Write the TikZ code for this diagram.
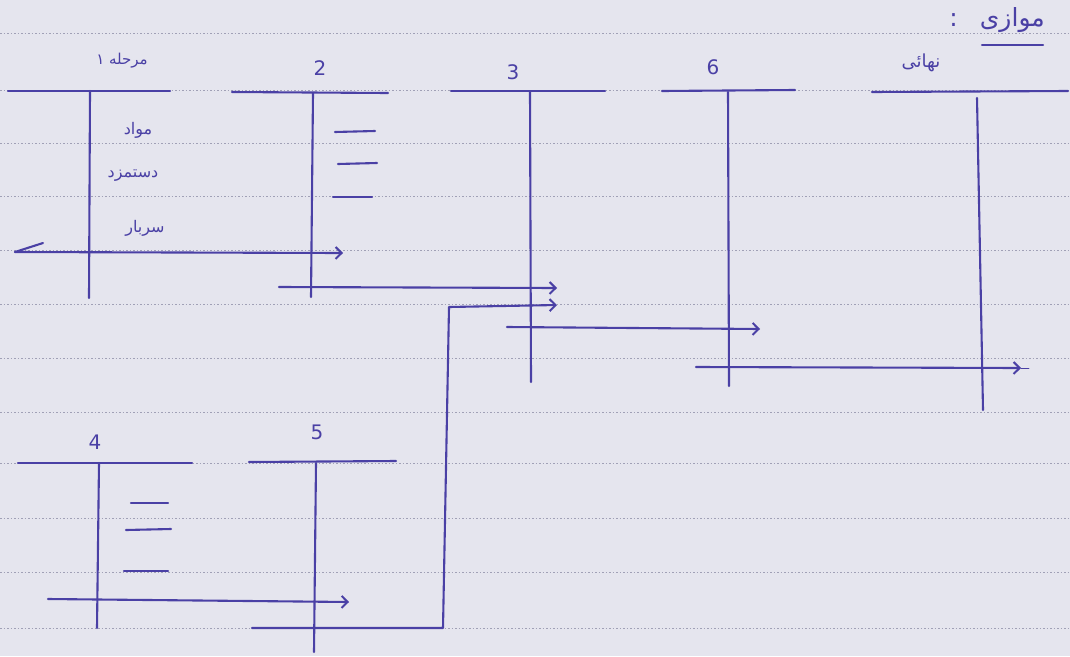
\documentclass[tikz,border=0pt]{standalone}
\usepackage{fontspec}
\setmainfont{DejaVu Sans}
\newfontfamily\arabicfont[Script=Arabic]{DejaVu Sans}
\TeXXeTstate=1
\usetikzlibrary{arrows.meta}
\definecolor{ink}{RGB}{74,64,165}
\definecolor{paper}{RGB}{229,229,238}
\definecolor{rulecol}{RGB}{160,160,182}
\begin{document}
\begin{tikzpicture}[x=1pt,y=-1pt,
  pen/.style={draw=ink,line width=2.1pt,line cap=round},
  flow/.style={pen,-{Straight Barb[length=6pt,width=12pt,line width=2pt]}},
  lab/.style={text=ink,font=\fontsize{20}{20}\selectfont,inner sep=0pt},
  fa/.style={text=ink,font=\arabicfont\fontsize{16}{16}\selectfont,inner sep=0pt},
  ruled/.style={draw=rulecol,line width=0.6pt,dash pattern=on 1.5pt off 2pt}]
\fill[paper] (0,0) rectangle (1070,656);
\useasboundingbox (0,0) rectangle (1070,656);
% ruled paper
\foreach \yy in {33,90,143,196,250,304,358,412,463,518,572,628}
  \draw[ruled] (0,\yy) -- (1070,\yy);

% title
\node[fa,font=\arabicfont\fontsize{25}{25}\selectfont,anchor=east] (title) at (1045,20) {\beginR موازی\hspace{22pt}:\endR};
\draw[pen] (982,45) -- (1043,45);

% ---- stage 1
\node[fa,font=\arabicfont\fontsize{15}{15}\selectfont] (s1) at (122,61) {\beginR مرحله ۱\endR};
\coordinate (t1l) at (8,91); \coordinate (t1r) at (170,91);
\coordinate (t1a) at (90,91); \coordinate (t1b) at (89,298);
\draw[pen] (t1l) -- (t1r); \draw[pen] (t1a) -- (t1b);
\node[fa] (m1) at (138,130) {\beginR مواد\endR};
\node[fa] (m2) at (133,176) {\beginR دستمزد\endR};
\node[fa] (m3) at (145,228) {\beginR سربار\endR};

% ---- stage 2
\node[lab] (s2) at (320,68) {2};
\coordinate (t2l) at (232,92); \coordinate (t2r) at (388,93);
\coordinate (t2a) at (313,93); \coordinate (t2b) at (311,297);
\draw[pen] (t2l) -- (t2r); \draw[pen] (t2a) -- (t2b);
\draw[pen] (335,132) -- (375,131);
\draw[pen] (338,164) -- (377,163);
\draw[pen] (333,197) -- (372,197);

% ---- stage 3
\node[lab] (s3) at (513,72) {3};
\coordinate (t3l) at (451,91); \coordinate (t3r) at (605,91);
\coordinate (t3a) at (530,92); \coordinate (t3b) at (531,382);
\draw[pen] (t3l) -- (t3r); \draw[pen] (t3a) -- (t3b);

% ---- stage 6
\node[lab] (s6) at (713,67) {6};
\coordinate (t6l) at (662,91); \coordinate (t6r) at (795,90);
\coordinate (t6a) at (728,92); \coordinate (t6b) at (729,386);
\draw[pen] (t6l) -- (t6r); \draw[pen] (t6a) -- (t6b);

% ---- final
\node[fa,font=\arabicfont\fontsize{18}{18}\selectfont] (sf) at (921,63) {\beginR نهائی\endR};
\coordinate (tfl) at (872,92); \coordinate (tfr) at (1068,91);
\coordinate (tfa) at (977,98); \coordinate (tfb) at (983,410);
\draw[pen] (tfl) -- (tfr); \draw[pen] (tfa) -- (tfb);

% ---- stage 4
\node[lab] (s4) at (95,442) {4};
\coordinate (t4l) at (18,463); \coordinate (t4r) at (192,463);
\coordinate (t4a) at (99,463); \coordinate (t4b) at (97,628);
\draw[pen] (t4l) -- (t4r); \draw[pen] (t4a) -- (t4b);
\draw[pen] (131,503) -- (168,503);
\draw[pen] (126,530) -- (171,529);
\draw[pen] (124,571) -- (168,571);

% ---- stage 5
\node[lab] (s5) at (317,432) {5};
\coordinate (t5l) at (249,462); \coordinate (t5r) at (396,461);
\coordinate (t5a) at (316,463); \coordinate (t5b) at (314,652);
\draw[pen] (t5l) -- (t5r); \draw[pen] (t5a) -- (t5b);

% ---- flows
\coordinate (f1s) at (15,252); \coordinate (f1e) at (343,253);
\draw[pen] (f1s) -- (43,243);
\draw[flow] (f1s) -- (f1e);

\coordinate (f2s) at (279,287); \coordinate (f2e) at (557,288);
\draw[flow] (f2s) -- (f2e);

\coordinate (f4s) at (48,599); \coordinate (f4e) at (349,602);
\draw[flow] (f4s) -- (f4e);

\coordinate (f5s) at (252,628); \coordinate (f5a) at (443,628);
\coordinate (f5b) at (449,307); \coordinate (f5e) at (557,305);
\draw[flow,line join=round] (f5s) -- (f5a) -- (f5b) -- (f5e);

\coordinate (f3s) at (507,327); \coordinate (f3e) at (760,329);
\draw[flow] (f3s) -- (f3e);

\coordinate (f6s) at (696,367); \coordinate (f6e) at (1021,368);
\draw[flow] (f6s) -- (f6e);
\draw[pen,line width=0.9pt] (f6e) -- (1029,368);
\end{tikzpicture}
\end{document}
